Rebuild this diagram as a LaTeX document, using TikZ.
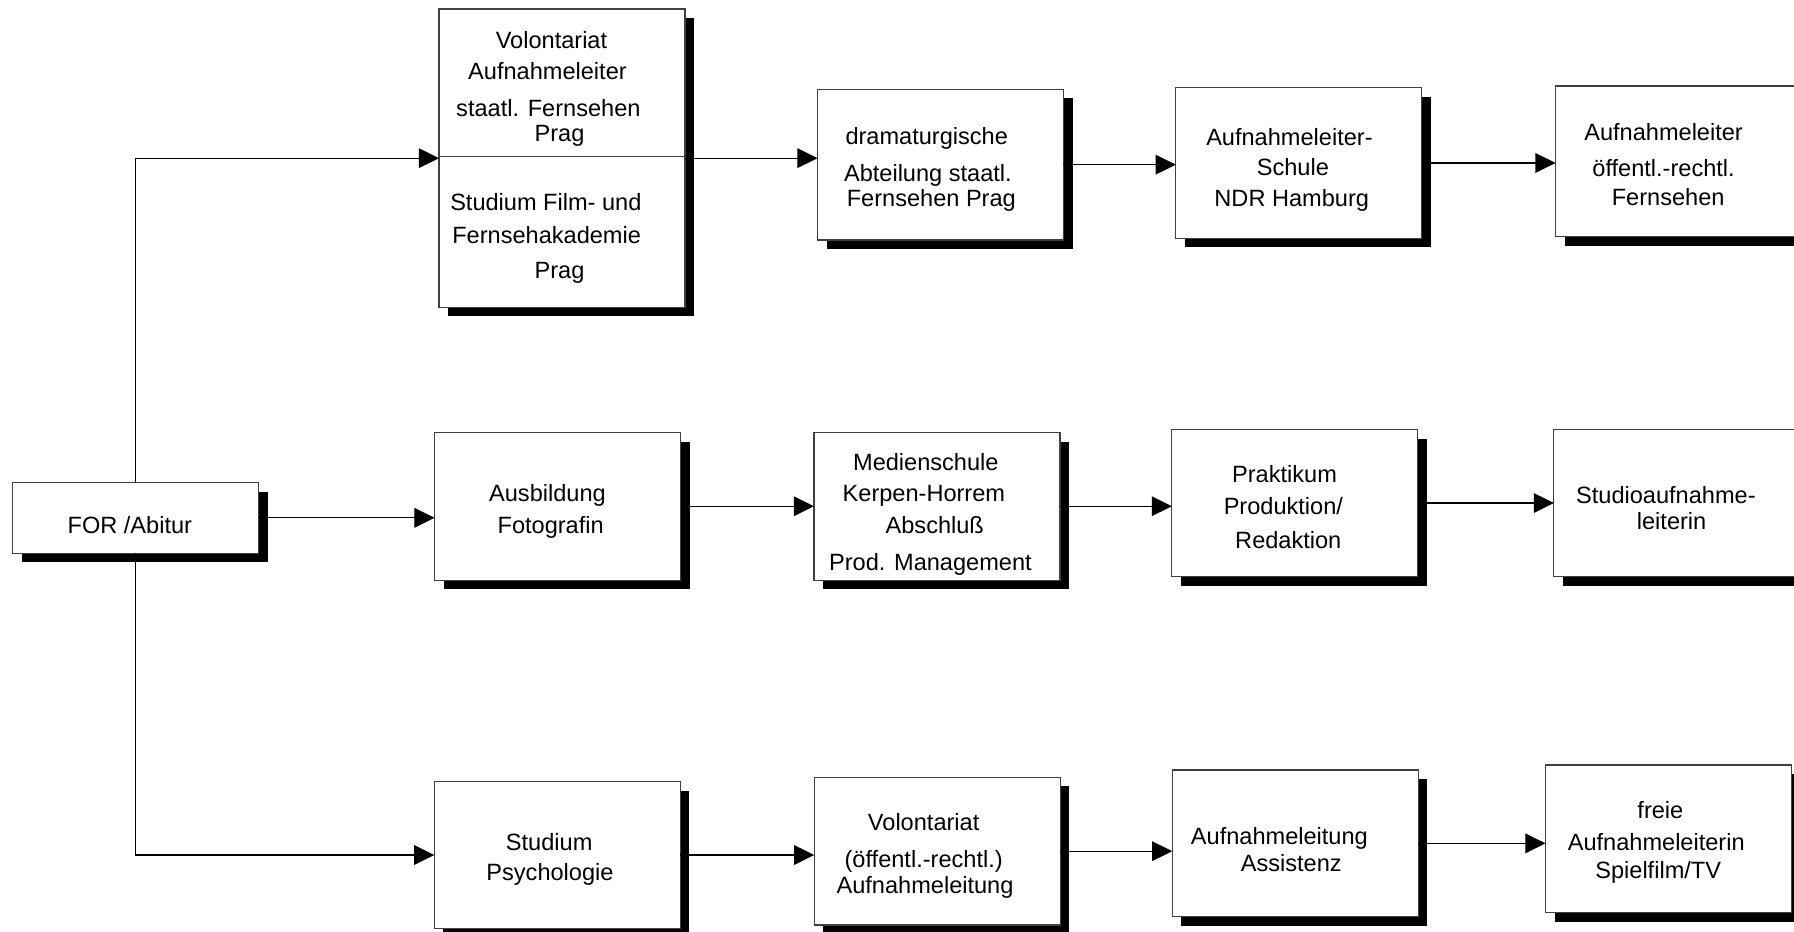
\documentclass[tikz,border=0pt]{standalone}
\usepackage{fontspec}
\setmainfont{Liberation Sans}
\usetikzlibrary{arrows.meta,shadows}
\begin{document}
\begin{tikzpicture}[x=0.5pt,y=-0.5pt,
  box/.style={draw=black!75, line width=0.5pt, fill=white, rectangle, inner sep=0pt, outer sep=0pt,
    minimum width=107.5pt, general shadow={fill=black, shadow xshift=4pt, shadow yshift=-4pt}},
  lbl/.style={anchor=base, inner sep=0pt, font=\fontsize{10.3pt}{12pt}\selectfont},
  conn/.style={draw=black, line width=0.5pt, -{Triangle[length=8.8pt,width=8.6pt]}},
  plain/.style={draw=black!85, line width=0.5pt}]
\useasboundingbox (0,0) rectangle (1568,814);
\clip (0,0) rectangle (1568,814);

% boxes
\node[box, minimum height=31pt]     (for)    at (118.4,452.6) {};
\node[box, minimum height=130.35pt] (v1)     at (491.2,138.25) {};
\node[box, minimum height=65.9pt]   (dram)   at (822,143.9) {};
\node[box, minimum height=65.85pt]  (als)    at (1135.2,142.45) {};
\node[box, minimum height=65.85pt]  (alo)    at (1467.1,141.05) {};
\node[box, minimum height=64.55pt]  (ausb)   at (487.3,442.45) {};
\node[box, minimum height=64.55pt]  (med)    at (818.9,442.45) {};
\node[box, minimum height=64.35pt]  (prak)   at (1131.75,439.65) {};
\node[box, minimum height=64.35pt]  (studio) at (1465.65,439.65) {};
\node[box, minimum height=64.1pt]   (psy)    at (487.05,747.3) {};
\node[box, minimum height=64.55pt]  (vol)    at (819.1,743.95) {};
\node[box, minimum height=64.1pt]   (ass)    at (1132.05,737.1) {};
\node[box, minimum height=64.55pt]  (frei)   at (1458.3,733.15) {};

% divider in the first box
\draw[plain, draw=black!75] ([yshift=0.6pt]v1.west) -- ([yshift=0.6pt]v1.east);

% texts
\node[lbl] (tfor) at (113.5,466.2) {FOR /Abitur};

\node[lbl] (tv1a) at (482,42.2) {Volontariat};
\node[lbl] (tv1b) at (478.5,69.9) {Aufnahmeleiter};
\node[lbl] (tv1c) at (479.3,102) {staatl. Fernsehen};
\node[lbl] (tv1d) at (489,123.8) {Prag};
\node[lbl] (tv1e) at (477.1,184.2) {Studium Film- und};
\node[lbl] (tv1f) at (477.8,212.7) {Fernsehakademie};
\node[lbl] (tv1g) at (489,243.3) {Prag};

\node[lbl] (tdra) at (810,125.9) {dramaturgische};
\node[lbl] (tdrb) at (811,158.8) {Abteilung staatl.};
\node[lbl] (tdrc) at (814,180.6) {Fernsehen Prag};

\node[lbl] (tala) at (1127,127.6) {Aufnahmeleiter-};
\node[lbl] (talb) at (1130,153) {Schule};
\node[lbl] (talc) at (1129,180.6) {NDR Hamburg};

\node[lbl] (toa) at (1454,122.4) {Aufnahmeleiter};
\node[lbl] (tob) at (1454,154.4) {öffentl.-rechtl.};
\node[lbl] (toc) at (1458,179.2) {Fernsehen};

\node[lbl] (tausa) at (478.5,438.5) {Ausbildung};
\node[lbl] (tausb) at (481.3,466.2) {Fotografin};

\node[lbl] (tmea) at (809.2,410.8) {Medienschule};
\node[lbl] (tmeb) at (807.5,438.5) {Kerpen-Horrem};
\node[lbl] (tmec) at (817,466.2) {Abschluß};
\node[lbl] (tmed) at (813.2,498.2) {Prod. Management};

\node[lbl] (tpra) at (1122.7,421.6) {Praktikum};
\node[lbl] (tprb) at (1121.7,450.1) {Produktion/};
\node[lbl] (tprc) at (1126,479.3) {Redaktion};

\node[lbl] (tsta) at (1456,439.9) {Studioaufnahme-};
\node[lbl] (tstb) at (1461,463.2) {leiterin};

\node[lbl] (tpsa) at (480,743) {Studium};
\node[lbl] (tpsb) at (480.7,769.8) {Psychologie};

\node[lbl] (tvoa) at (807.3,725.5) {Volontariat};
\node[lbl] (tvob) at (807.3,758.1) {(öffentl.-rechtl.)};
\node[lbl] (tvoc) at (808.5,780.8) {Aufnahmeleitung};

\node[lbl] (tasa) at (1118.2,738) {Aufnahmeleitung};
\node[lbl] (tasb) at (1128.6,761.9) {Assistenz};

\node[lbl] (tfra) at (1451.2,715.3) {freie};
\node[lbl] (tfrb) at (1447.6,743) {Aufnahmeleiterin};
\node[lbl] (tfrc) at (1449.3,767.7) {Spielfilm/TV};

% connectors
\draw[conn] (for.north) |- (v1.west);
\draw[conn] (for.east) -- (for.east -| ausb.west);
\draw[conn] (for.south) |- (psy.west);

\draw[conn] (v1.east) -- (v1.east -| dram.west);
\draw[conn] (dram.east) -- (dram.east -| als.west);
\draw[conn] (als.east) -- (als.east -| alo.west);

\draw[conn] (ausb.east) -- (ausb.east -| med.west);
\draw[conn] (med.east) -- (med.east -| prak.west);
\draw[conn] (prak.east) -- (prak.east -| studio.west);

\draw[conn] (psy.east) -- (psy.east -| vol.west);
\draw[conn] (vol.east) -- (vol.east -| ass.west);
\draw[conn] (ass.east) -- (ass.east -| frei.west);
\end{tikzpicture}
\end{document}
